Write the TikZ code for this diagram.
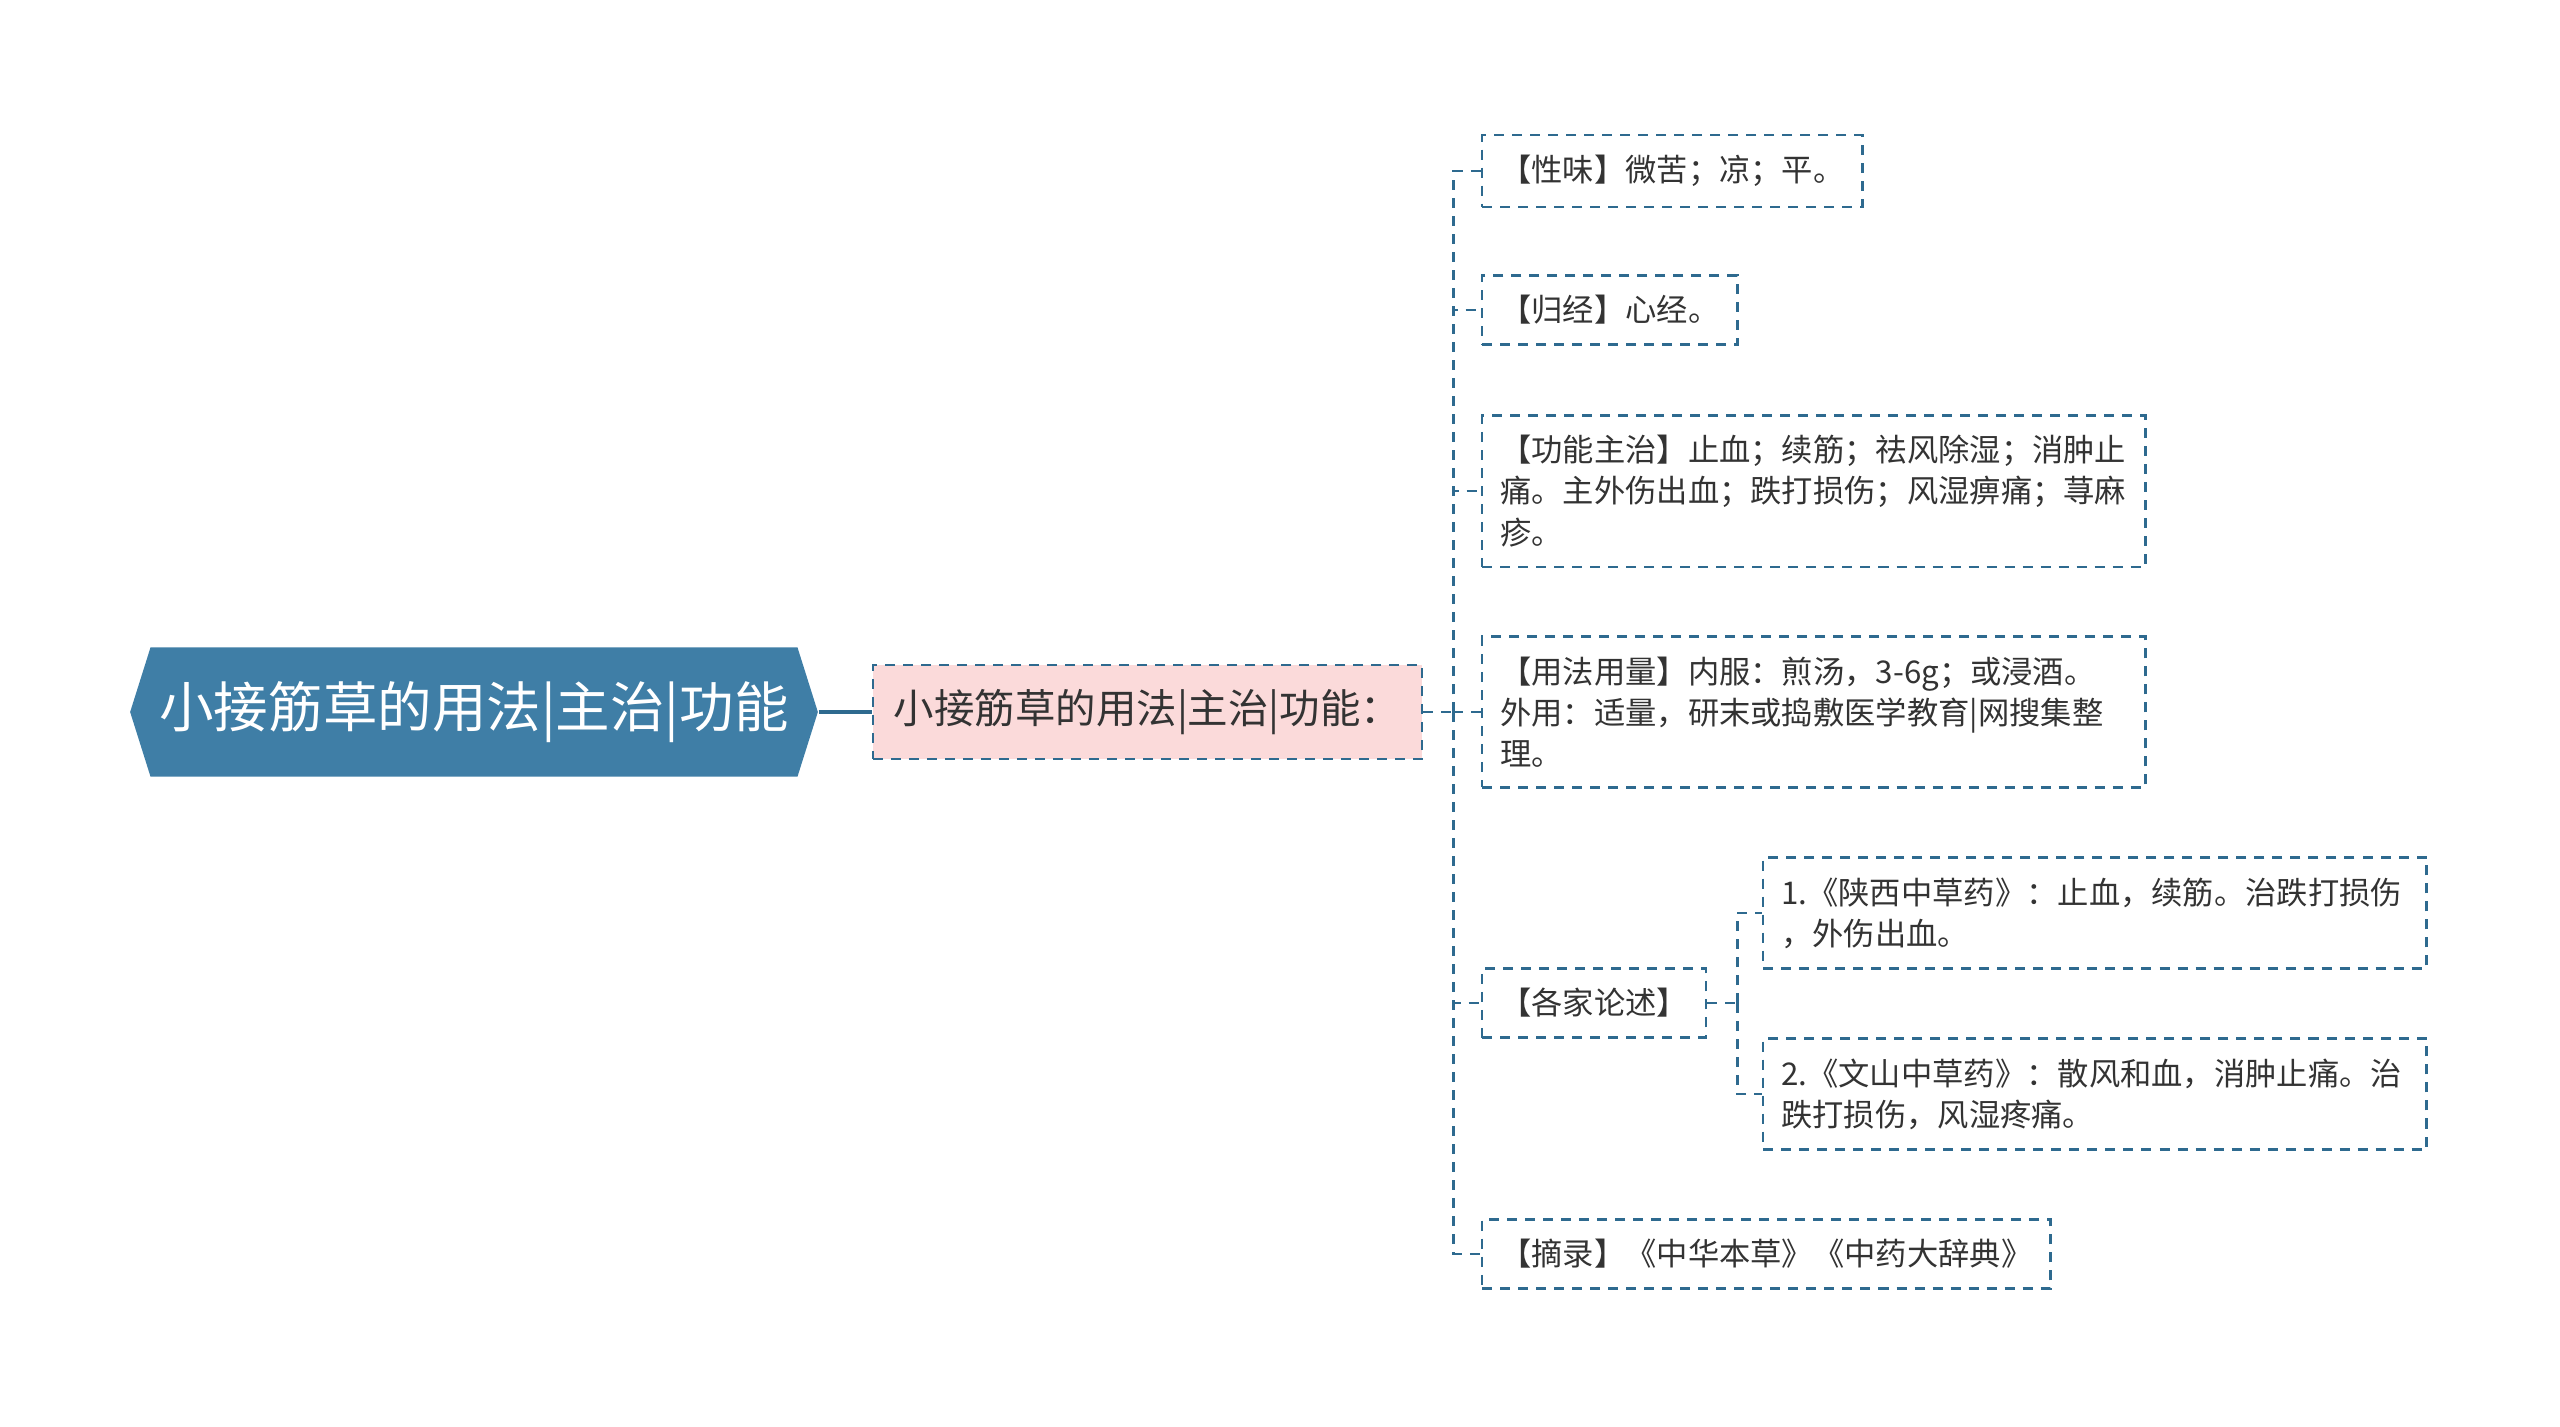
\documentclass[tikz,border=0pt]{standalone}
\usepackage{fontspec}
\setmainfont{Noto Sans CJK SC}
\usetikzlibrary{shapes.symbols}
\definecolor{rootblue}{HTML}{3F7EA6}
\definecolor{linkblue}{HTML}{2E6A8F}
\definecolor{pinkfill}{HTML}{FBDADA}
\definecolor{txt}{HTML}{333333}

\begin{document}
\begin{tikzpicture}[x=0.01cm,y=-0.01cm,
  dashline/.style={draw=linkblue, dash pattern=on 0.1cm off 0.08cm, line width=0.7pt},
  root/.style={shape=signal, signal to=west and east, signal pointer angle=145, fill=rootblue,
    text=white, font=\fontsize{15.5}{18}\selectfont, minimum height=1.29cm, inner ysep=0, inner xsep=0.09cm},
  usagebox/.style={dashline, fill=pinkfill, text=txt, font=\fontsize{11.5}{14}\selectfont,
    minimum width=5.49cm, minimum height=0.94cm, inner sep=0},
  leaf/.style={dashline, text=txt, font=\fontsize{8.9}{11.7}\selectfont, align=left, anchor=west,
    inner xsep=0.18cm, inner ysep=0.2cm},
  wide/.style={leaf, text width=6.27cm},
  link/.style={dashline}]
\useasboundingbox (0,0) rectangle (2560,1426);

\node[root] (title) at (474,712) {小接筋草的用法|主治|功能};
\node[usagebox] (usage) at (1147.5,712) {小接筋草的用法|主治|功能：\hspace{0.12cm}};
\draw[linkblue, line width=1pt] (title.east) -- (usage.west);

\node[leaf] (xingwei) at (1481,171) {【性味】微苦；凉；平。};
\node[leaf] (guijing) at (1481,310) {【归经】心经。};
\node[wide] (gongneng) at (1481,491) {【功能主治】止血；续筋；祛风除湿；消肿止\\痛。主外伤出血；跌打损伤；风湿痹痛；荨麻\\疹。};
\node[wide] (yongfa) at (1481,712) {【用法用量】内服：煎汤，3-6g；或浸酒。\\外用：适量，研末或捣敷医学教育|网搜集整\\理。};
\node[leaf] (gejia) at (1481,1003) {【各家论述】};
\node[leaf] (zhailu) at (1481,1254) {【摘录】《中华本草》《中药大辞典》};
\node[wide] (shaanxi) at (1762,913) {1.《陕西中草药》：止血，续筋。治跌打损伤\\，外伤出血。};
\node[wide] (wenshan) at (1762,1094) {2.《文山中草药》：散风和血，消肿止痛。治\\跌打损伤，风湿疼痛。};

% connectors
\draw[link] (usage.east) -- ++(30,0) coordinate (trunk);
\foreach \n in {xingwei,guijing,gongneng,yongfa,gejia,zhailu}
  \draw[link] (trunk) |- (\n.west);
\draw[link] (gejia.east) -- ++(30,0) coordinate (subtrunk);
\foreach \n in {shaanxi,wenshan}
  \draw[link] (subtrunk) |- (\n.west);
\end{tikzpicture}
\end{document}
